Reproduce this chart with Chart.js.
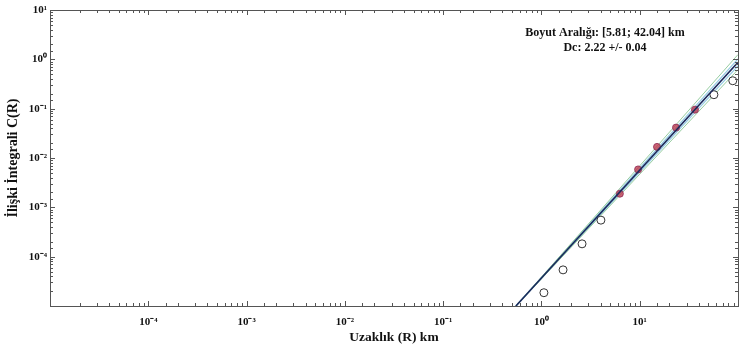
<!DOCTYPE html>
<html>
<head>
<meta charset="utf-8">
<script src="https://cdn.jsdelivr.net/npm/chart.js@4.4.0/dist/chart.umd.min.js"></script>
<style>
  html, body { margin: 0; padding: 0; background: #fff; }
  #wrap { width: 743px; height: 354px; }
</style>
</head>
<body>
<div id="wrap"><canvas id="corrChart"></canvas></div>
<script>
// distance R (km) and correlation integral C(R)
var openR = [1.06, 1.66, 2.59, 4.03, 56.9, 88.5]
var openC = [1.86e-5, 5.4e-5, 1.82e-4, 5.5e-4, 0.192, 0.368]
var rangeR = [6.28, 9.63, 15.0, 23.4, 36.5]
var rangeC = [1.89e-3, 5.86e-3, 1.68e-2, 4.13e-2, 9.55e-2]

// fit line and its bounds (end points)
var fitR = [0.55, 100]
var fitC = [1e-5, 0.87]
var innerUpC = [1e-5, 1.02]
var innerLoC = [1e-5, 0.74]
var outerUpC = [1e-5, 1.25]
var outerLoC = [1e-5, 0.62]

var xLabelPowers = [-4, -3, -2, -1, 0, 1]
var yLabelPowers = [-4, -3, -2, -1, 0, 1]

var rangeText = 'Boyut Aralığı: [5.81; 42.04] km'
var dcText = 'Dc: 2.22 +/- 0.04'

var sup = { '-': '⁻', '0': '⁰', '1': '¹', '2': '²', '3': '³', '4': '⁴', '5': '⁵' }
function powLabel(value, allowed) {
    var p = Math.round(Math.log10(value))
    if (Math.abs(Math.log10(value) - p) > 1e-6) return ''
    if (allowed.indexOf(p) < 0) return ''
    return '10' + String(p).split('').map(c => sup[c]).join('')
}

function pts(xs, ys) {
    return xs.map((x, i) => ({ x: x, y: ys[i] }))
}

var serif = '"Liberation Serif", "Times New Roman", serif'

// box round the plot with inward ticks, plus the fit text
var boxTicks = {
    id: 'boxTicks',
    afterDraw(chart) {
        var ctx = chart.ctx
        var a = chart.chartArea
        var x = chart.scales.x
        var y = chart.scales.y
        ctx.save()
        ctx.strokeStyle = '#555'
        ctx.lineWidth = 1
        ctx.strokeRect(Math.round(a.left) + 0.5, Math.round(a.top) + 0.5,
            Math.round(a.right - a.left), Math.round(a.bottom - a.top))
        ctx.beginPath()
        x.ticks.forEach(t => {
            var px = Math.round(x.getPixelForValue(t.value)) + 0.5
            var major = Math.abs(Math.log10(t.value) - Math.round(Math.log10(t.value))) < 1e-6
            var len = major ? 5 : 3
            ctx.moveTo(px, a.bottom); ctx.lineTo(px, a.bottom - len)
            ctx.moveTo(px, a.top); ctx.lineTo(px, a.top + len)
        })
        y.ticks.forEach(t => {
            var py = Math.round(y.getPixelForValue(t.value)) + 0.5
            var major = Math.abs(Math.log10(t.value) - Math.round(Math.log10(t.value))) < 1e-6
            var len = major ? 5 : 3
            ctx.moveTo(a.left, py); ctx.lineTo(a.left + len, py)
            ctx.moveTo(a.right, py); ctx.lineTo(a.right - len, py)
        })
        ctx.stroke()

        ctx.fillStyle = '#111'
        ctx.font = 'bold 12px ' + serif
        ctx.textAlign = 'center'
        ctx.textBaseline = 'middle'
        ctx.fillText(rangeText, 605, 33)
        ctx.fillText(dcText, 605, 48)
        ctx.restore()
    }
}

var lineChart = new Chart(document.querySelector('#corrChart'), {
    type: 'scatter',
    data: {
        datasets: [
            {
                label: 'outer up',
                data: pts(fitR, outerUpC),
                showLine: true,
                borderColor: 'rgba(140,200,150,0.9)',
                borderWidth: 1,
                pointRadius: 0,
                order: 3
            },
            {
                label: 'outer low',
                data: pts(fitR, outerLoC),
                showLine: true,
                borderColor: 'rgba(140,200,150,0.9)',
                borderWidth: 1,
                pointRadius: 0,
                order: 3
            },
            {
                label: 'inner up',
                data: pts(fitR, innerUpC),
                showLine: true,
                borderColor: 'rgba(120,190,220,0.8)',
                borderWidth: 1.2,
                pointRadius: 0,
                order: 3
            },
            {
                label: 'inner low',
                data: pts(fitR, innerLoC),
                showLine: true,
                borderColor: 'rgba(120,190,220,0.8)',
                borderWidth: 1.2,
                pointRadius: 0,
                order: 3
            },
            {
                label: 'all points',
                data: pts(openR, openC),
                backgroundColor: '#fff',
                borderColor: '#333',
                borderWidth: 1,
                pointRadius: 4,
                order: 2
            },
            {
                label: 'range points',
                data: pts(rangeR, rangeC),
                backgroundColor: 'rgba(190,60,80,0.8)',
                borderColor: 'rgba(150,50,90,0.9)',
                borderWidth: 1,
                pointRadius: 3.5,
                order: 1
            },
            {
                label: 'fit',
                data: pts(fitR, fitC),
                showLine: true,
                borderColor: '#1b2a5c',
                borderWidth: 1.6,
                pointRadius: 0,
                order: 0
            }
        ]
    },
    options: {
        responsive: true,
        maintainAspectRatio: false,
        animation: false,
        layout: { padding: { top: 10, right: 3, left: 0, bottom: 0 } },
        plugins: {
            legend: { display: false },
            tooltip: { enabled: false }
        },
        scales: {
            x: {
                type: 'logarithmic',
                min: 1e-5,
                max: 100,
                grid: { display: false, drawTicks: false },
                border: { display: false },
                ticks: {
                    autoSkip: false,
                    maxRotation: 0,
                    padding: 10,
                    color: '#111',
                    font: { family: serif, size: 11, weight: 'bold' },
                    callback: v => powLabel(v, xLabelPowers)
                },
                title: {
                    display: true,
                    text: 'Uzaklık (R) km',
                    color: '#111',
                    font: { family: serif, size: 13.5, weight: 'bold' },
                    padding: { top: 4, bottom: 8 }
                },
                afterFit: s => {
                    s.height = 48
                    s.paddingLeft = 0
                    s.paddingRight = 0
                }
            },
            y: {
                type: 'logarithmic',
                min: 1e-5,
                max: 10,
                grid: { display: false, drawTicks: false },
                border: { display: false },
                ticks: {
                    autoSkip: false,
                    padding: 3,
                    color: '#111',
                    font: { family: serif, size: 11, weight: 'bold' },
                    callback: v => powLabel(v, yLabelPowers)
                },
                title: {
                    display: true,
                    text: 'İlişki İntegrali C(R)',
                    color: '#111',
                    font: { family: serif, size: 14, weight: 'bold' },
                    padding: { top: 5, bottom: 2 }
                },
                afterFit: s => { s.width = 50 }
            }
        }
    },
    plugins: [boxTicks]
})
</script>
</body>
</html>
